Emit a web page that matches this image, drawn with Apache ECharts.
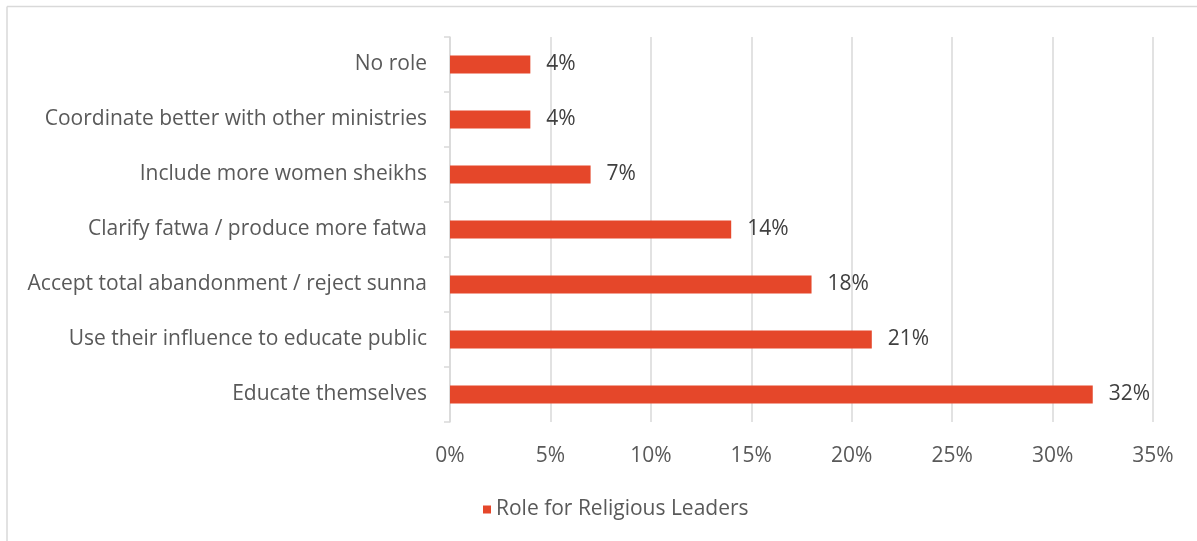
<!DOCTYPE html>
<html>
<head>
<meta charset="utf-8">
<script src="https://cdn.jsdelivr.net/npm/echarts@6/dist/echarts.min.js"></script>
<style>
  html, body { margin: 0; padding: 0; background: #ffffff; }
  #chart { width: 1197px; height: 541px; }
</style>
</head>
<body>
<div id="chart"></div>
<script>
// Categories, top to bottom
const categories = [
  'No role',
  'Coordinate better with other ministries',
  'Include more women sheikhs',
  'Clarify fatwa / produce more fatwa',
  'Accept total abandonment / reject sunna',
  'Use their influence to educate public',
  'Educate themselves'
];
// Share of respondents, percent
const values = [4, 4, 7, 14, 18, 21, 32];
const seriesName = 'Role for Religious Leaders';
const xTicks = { min: 0, max: 35, interval: 5 };

const FONT = '"Open Sans", sans-serif';
const FS = 21;
const chart = echarts.init(document.getElementById('chart'), null, { renderer: 'canvas' });

chart.setOption({
  animation: false,
  backgroundColor: '#ffffff',
  textStyle: { fontFamily: FONT },
  graphic: [
    { type: 'line', shape: { x1: 7, y1: 6.5, x2: 1197, y2: 6.5 }, style: { stroke: '#d9d9d9', lineWidth: 1.5 } },
    { type: 'line', shape: { x1: 7, y1: 6.5, x2: 7, y2: 541 }, style: { stroke: '#d9d9d9', lineWidth: 1.5 } }
  ],
  grid: { left: 450, right: 44, top: 37, bottom: 119, containLabel: false },
  legend: {
    data: [seriesName],
    left: 478,
    top: 494,
    icon: 'rect',
    itemWidth: 8,
    itemHeight: 8,
    itemGap: 6,
    textStyle: { color: '#595959', fontSize: FS, fontFamily: FONT }
  },
  xAxis: {
    type: 'value',
    min: xTicks.min,
    max: xTicks.max,
    interval: xTicks.interval,
    axisLine: { show: false },
    axisTick: { show: false },
    splitLine: { show: true, lineStyle: { color: '#d9d9d9', width: 1.5 } },
    axisLabel: { formatter: '{value}%', color: '#595959', fontSize: FS, margin: 24, fontFamily: FONT }
  },
  yAxis: {
    type: 'category',
    data: categories,
    inverse: true,
    axisLine: { show: true, lineStyle: { color: '#d9d9d9', width: 1.5 } },
    axisTick: { show: true, length: 6, lineStyle: { color: '#d9d9d9', width: 1.5 } },
    axisLabel: { color: '#595959', fontSize: FS, margin: 23, fontFamily: FONT, padding: [4, 0, 0, 0] }
  },
  series: [{
    name: seriesName,
    type: 'bar',
    data: values,
    barWidth: 18,
    itemStyle: { color: '#e5472a' },
    label: {
      show: true,
      position: 'right',
      distance: 16,
      formatter: '{c}%',
      color: '#404040',
      fontSize: FS,
      fontFamily: FONT,
      padding: [4, 0, 0, 0]
    }
  }]
});
</script>
</body>
</html>
